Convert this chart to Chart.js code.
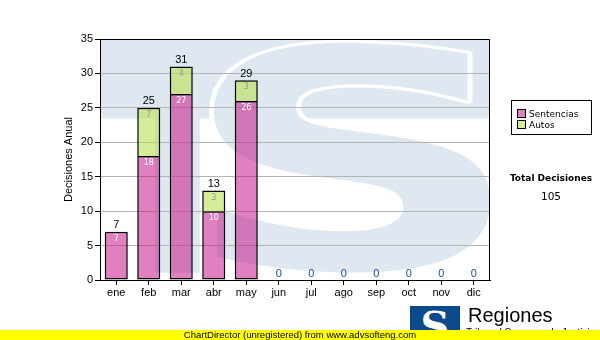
<!DOCTYPE html>
<html>
<head>
<meta charset="utf-8">
<script src="https://cdn.jsdelivr.net/npm/chart.js@4/dist/chart.umd.min.js"></script>
<style>
    body { margin: 0; background: #fff; }
    #wrap { position: relative; width: 600px; height: 340px; overflow: hidden; }
    #myChart { position: absolute; left: 0; top: 0; }
    #legend { position: absolute; left: 511px; top: 100px; width: 81px; height: 35px; box-sizing: border-box;
        border: 1px solid #000; font: 9px "DejaVu Sans", sans-serif; color: #000; }
    .item { position: absolute; left: 5px; height: 11px; line-height: 11px; white-space: nowrap; }
    .swatch { display: inline-block; width: 7px; height: 7px; border: 1px solid #000; vertical-align: -1px; margin-right: 3px; }
    #total { position: absolute; left: 491px; width: 120px; top: 172px; text-align: center;
        font: bold 9px "DejaVu Sans", sans-serif; line-height: 12px; color: #000; }
    #totalNum { position: absolute; left: 491px; width: 120px; top: 190px; text-align: center;
        font: 10.5px "DejaVu Sans", sans-serif; line-height: 13px; color: #000; }
    #logo { position: absolute; left: 410px; top: 306px; width: 50px; height: 34px; background: #0c4a8c;
        color: #fff; font: bold 40px "DejaVu Serif", serif; line-height: 40px; text-align: center; overflow: hidden; }
    #regiones { position: absolute; left: 468px; top: 305px; font: 20px "Liberation Sans", Arial, sans-serif; line-height: 20px; color: #000; }
    #subtitulo { position: absolute; left: 466px; top: 328px; font: 10px "Liberation Sans", Arial, sans-serif; line-height: 10px; color: #000; }
    #pie { position: absolute; left: 0; top: 330px; width: 600px; height: 10px; background: #ffff00; text-align: center;
        font: 9.5px "Liberation Sans", Arial, sans-serif; line-height: 10px; color: #000; }
</style>
</head>
<body>
<div id="wrap">
    <canvas id="myChart" width="600" height="340"></canvas>
    <div id="legend">
        <div class="item" style="top:8px"><span class="swatch" style="background:#e080c0"></span>Sentencias</div>
        <div class="item" style="top:19px"><span class="swatch" style="background:#d6ec98"></span>Autos</div>
    </div>
    <div id="total">Total Decisiones</div>
    <div id="totalNum"></div>
    <div id="logo">S</div>
    <div id="regiones">Regiones</div>
    <div id="subtitulo">Tribunal Supremo de Justicia</div>
    <div id="pie">ChartDirector (unregistered) from www.advsofteng.com</div>
</div>
<script>
const meses = ['ene', 'feb', 'mar', 'abr', 'may', 'jun', 'jul', 'ago', 'sep', 'oct', 'nov', 'dic'];
const sentencias = [7, 18, 27, 10, 26, 0, 0, 0, 0, 0, 0, 0];
const autos = [0, 7, 4, 3, 3, 0, 0, 0, 0, 0, 0, 0];
const ejeMin = 0;
const ejeMax = 35;
const ejePaso = 5;

const totales = meses.map((m, i) => sentencias[i] + autos[i]);
document.getElementById('totalNum').textContent = totales.reduce((a, b) => a + b, 0);

Chart.defaults.font.family = '"Liberation Sans", Arial, sans-serif';
Chart.defaults.color = '#000';

// fondo con la "S" del logo, en azul claro
const marcaAgua = {
    id: 'marcaAgua',
    beforeDraw(chart) {
        const ctx = chart.ctx;
        const a = chart.chartArea;
        const w = a.right - a.left, h = a.bottom - a.top;
        const azul = '#dfe8f1';
        ctx.save();
        ctx.beginPath();
        ctx.rect(a.left, a.top, w, h);
        ctx.clip();
        ctx.fillStyle = azul;
        ctx.fillRect(a.left, a.top, w, h * 0.33);
        ctx.fillRect(a.left + w * 0.141, a.top, w * 0.115, h * 0.97);

        ctx.font = 'bold 200px "DejaVu Sans"';
        const m = ctx.measureText('S');
        const gw = m.actualBoundingBoxLeft + m.actualBoundingBoxRight;
        const gh = m.actualBoundingBoxAscent + m.actualBoundingBoxDescent;
        const x0 = a.left + w * 0.29, x1 = a.right + 2;
        const y0 = a.top + 3, y1 = a.top + h * 0.97;
        const sx = (x1 - x0) / gw, sy = (y1 - y0) / gh;
        ctx.translate(x0, y0);
        ctx.scale(sx, sy);
        ctx.lineJoin = 'round';
        ctx.strokeStyle = '#fff';
        ctx.lineWidth = 10 / sx;
        ctx.strokeText('S', m.actualBoundingBoxLeft, m.actualBoundingBoxAscent);
        ctx.fillStyle = azul;
        ctx.fillText('S', m.actualBoundingBoxLeft, m.actualBoundingBoxAscent);
        ctx.restore();
    }
};

const etiquetas = {
    id: 'etiquetas',
    afterDatasetsDraw(chart) {
        const ctx = chart.ctx;
        const a = chart.chartArea;
        ctx.save();
        // marco del area
        ctx.strokeStyle = '#000';
        ctx.lineWidth = 1;
        ctx.strokeRect(a.left + 0.5, a.top + 0.5, a.right - a.left - 1, a.bottom - a.top);

        ctx.textAlign = 'center';
        chart.data.datasets.forEach((ds, i) => {
            const meta = chart.getDatasetMeta(i);
            meta.data.forEach((bar, j) => {
                const v = ds.data[j];
                if (!v) return;
                ctx.font = '8px "DejaVu Sans"';
                ctx.fillStyle = i === 0 ? '#ffffff' : '#9a9a9a';
                ctx.textBaseline = 'top';
                ctx.fillText(v, bar.x, bar.y + 3);
            });
        });
        const xs = chart.scales.x, ys = chart.scales.y;
        totales.forEach((t, j) => {
            ctx.font = '11px "Liberation Sans"';
            ctx.fillStyle = t ? '#000' : '#1c4c94';
            ctx.textBaseline = 'bottom';
            ctx.fillText(t, xs.getPixelForValue(j), ys.getPixelForValue(t) - 1);
        });
        ctx.restore();
    }
};

const ctx = document.getElementById('myChart').getContext('2d');
const chart = new Chart(ctx, {
    type: 'bar',
    data: {
        labels: meses,
        datasets: [{
            label: 'Sentencias',
            data: sentencias,
            backgroundColor: 'rgba(199, 24, 140, 0.55)',
            borderColor: '#000',
            borderWidth: c => c.raw > 0 ? 1.5 : 0,
            borderSkipped: false,
            barPercentage: 0.71,
            categoryPercentage: 1
        }, {
            label: 'Autos',
            data: autos,
            backgroundColor: 'rgba(187, 223, 83, 0.6)',
            borderColor: '#000',
            borderWidth: c => c.raw > 0 ? 1.5 : 0,
            borderSkipped: 'bottom',
            barPercentage: 0.71,
            categoryPercentage: 1
        }]
    },
    options: {
        responsive: false,
        animation: false,
        devicePixelRatio: 1,
        layout: { padding: { left: 62, right: 110, top: 39, bottom: 30 } },
        plugins: {
            legend: { display: false },
            tooltip: { enabled: false }
        },
        scales: {
            x: {
                stacked: true,
                afterFit: s => { s.height = 30; },
                grid: { display: true, drawOnChartArea: false, offset: false, tickLength: 5, tickColor: '#000' },
                border: { color: '#000', width: 1 },
                ticks: { font: { size: 11 }, color: '#000', padding: 1 }
            },
            y: {
                stacked: true,
                min: ejeMin,
                max: ejeMax,
                afterFit: s => { s.width = 38; },
                grid: { color: '#b4b4b4', lineWidth: 1, tickLength: 5, tickColor: '#000' },
                border: { color: '#000', width: 1 },
                ticks: { stepSize: ejePaso, font: { size: 11 }, color: '#000', padding: 2 },
                title: { display: true, text: 'Decisiones Anual', font: { size: 11 }, color: '#000', padding: 0 }
            }
        }
    },
    plugins: [marcaAgua, etiquetas]
});
</script>
</body>
</html>
